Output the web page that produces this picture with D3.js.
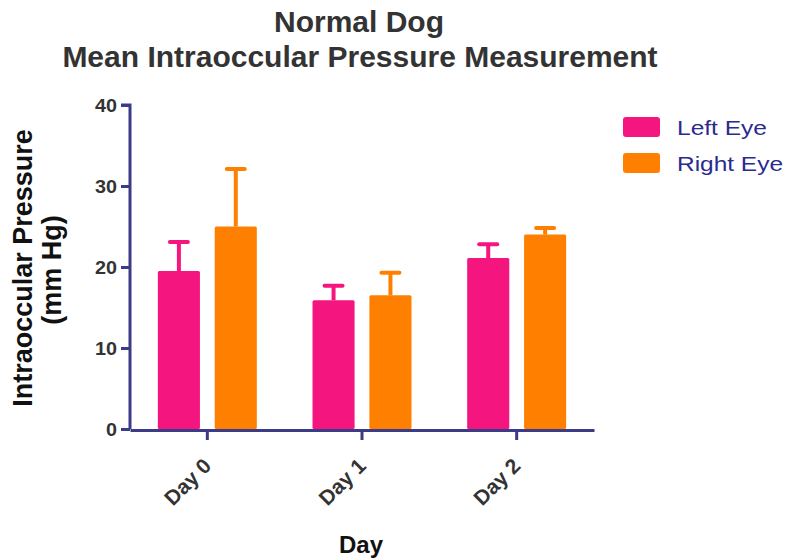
<!DOCTYPE html>
<html>
<head>
<meta charset="utf-8">
<script src="https://cdn.jsdelivr.net/npm/d3@7"></script>
<style>
  body { margin: 0; background: #fff; }
  svg text { font-family: Arial, "Liberation Sans", Helvetica, sans-serif; }
</style>
</head>
<body>
<script>
// chart data
const days = ['Day 0', 'Day 1', 'Day 2'];
const seriesNames = ['Left Eye', 'Right Eye'];
const leftMean = [19.5, 15.9, 21.1];
const leftErr = [23.1, 17.7, 22.8];
const rightMean = [25.0, 16.5, 24.0];
const rightErr = [32.1, 19.3, 24.8];
const yTicks = [0, 10, 20, 30, 40];

const colors = { 'Left Eye': '#f5157e', 'Right Eye': '#ff8000' };
const axisColor = '#3b3b87';

const svg = d3.select('body')
    .append('svg')
    .attr('width', 788)
    .attr('height', 558);

const x = d3.scaleBand()
    .domain(days)
    .range([130, 594])
    .paddingInner(0.36)
    .paddingOuter(0.18);

const xInner = d3.scaleBand()
    .domain(seriesNames)
    .range([0, x.bandwidth()])
    .paddingInner(0.26);

const y = d3.scaleLinear()
    .domain([0, 40])
    .range([429, 105]);

const rows = [];
days.forEach((d, i) => {
    rows.push({ day: d, series: 'Left Eye', mean: leftMean[i], err: leftErr[i] });
    rows.push({ day: d, series: 'Right Eye', mean: rightMean[i], err: rightErr[i] });
});

const cx = d => x(d.day) + xInner(d.series) + xInner.bandwidth() / 2;

// error bars (upper only), drawn under the bars
const eb = svg.append('g');
eb.selectAll('line.stem')
    .data(rows)
    .enter()
    .append('line')
    .attr('x1', cx)
    .attr('x2', cx)
    .attr('y1', d => y(d.mean))
    .attr('y2', d => y(d.err))
    .attr('stroke', d => colors[d.series])
    .attr('stroke-width', 4);

eb.selectAll('line.cap')
    .data(rows)
    .enter()
    .append('line')
    .attr('x1', d => cx(d) - 9)
    .attr('x2', d => cx(d) + 9)
    .attr('y1', d => y(d.err))
    .attr('y2', d => y(d.err))
    .attr('stroke', d => colors[d.series])
    .attr('stroke-width', 4)
    .attr('stroke-linecap', 'round');

svg.append('g')
    .selectAll('rect')
    .data(rows)
    .enter()
    .append('rect')
    .attr('x', d => x(d.day) + xInner(d.series))
    .attr('y', d => y(d.mean))
    .attr('width', xInner.bandwidth())
    .attr('height', d => y(0) - y(d.mean))
    .attr('rx', 1.5)
    .attr('fill', d => colors[d.series]);

// axes
const yAxis = d3.axisLeft(y).tickValues(yTicks).tickSize(9).tickPadding(4);
const gy = svg.append('g')
    .attr('transform', 'translate(130,0)')
    .call(yAxis)
    .attr('font-family', null)
    .attr('font-size', 19);
gy.select('.domain').attr('d', 'M-9,105H0V429').attr('stroke', axisColor).attr('stroke-width', 3);
gy.selectAll('.tick line').attr('stroke', axisColor).attr('stroke-width', 3);
gy.selectAll('.tick text')
    .attr('fill', '#333')
    .attr('font-weight', 'bold')
    .attr('textLength', d => d === 0 ? 11 : 22)
    .attr('lengthAdjust', 'spacingAndGlyphs');

const xAxis = d3.axisBottom(x).tickSize(10).tickSizeOuter(0);
const gx = svg.append('g')
    .attr('transform', 'translate(0,430)')
    .call(xAxis)
    .attr('font-family', null)
    .attr('font-size', 21);
gx.select('.domain').attr('stroke', axisColor).attr('stroke-width', 3);
gx.selectAll('.tick line').attr('stroke', axisColor).attr('stroke-width', 3);
gx.selectAll('.tick text')
    .attr('fill', '#333')
    .attr('font-weight', 'bold')
    .attr('text-anchor', 'end')
    .attr('y', 0)
    .attr('dy', '0.35em')
    .attr('transform', 'translate(0,32) rotate(-45)');

// titles
const title = svg.append('g')
    .attr('font-weight', 'bold')
    .attr('fill', '#333')
    .attr('font-size', 30)
    .attr('text-anchor', 'middle');
title.append('text').attr('x', 359).attr('y', 32).text('Normal Dog');
title.append('text').attr('x', 360).attr('y', 67).text('Mean Intraoccular Pressure Measurement');

svg.append('text')
    .attr('x', 361)
    .attr('y', 553)
    .attr('text-anchor', 'middle')
    .attr('font-size', 24)
    .attr('font-weight', 'bold')
    .attr('fill', '#111')
    .text('Day');

const yTitle = svg.append('g')
    .attr('transform', 'translate(0,268) rotate(-90)')
    .attr('text-anchor', 'middle')
    .attr('font-size', 27)
    .attr('font-weight', 'bold')
    .attr('fill', '#111');
yTitle.append('text').attr('x', 0).attr('y', 32).text('Intraoccular Pressure');
yTitle.append('text').attr('x', -2).attr('y', 61).text('(mm Hg)');

// legend
const legendWidths = [90, 106];
const legend = svg.append('g')
    .selectAll('g')
    .data(seriesNames)
    .enter()
    .append('g')
    .attr('transform', (d, i) => `translate(623,${117 + i * 36})`);
legend.append('rect')
    .attr('width', 37)
    .attr('height', 20)
    .attr('rx', 3)
    .attr('fill', d => colors[d]);
legend.append('text')
    .attr('x', 54)
    .attr('y', 18)
    .attr('font-size', 21)
    .attr('fill', '#2b2b8f')
    .attr('textLength', (d, i) => legendWidths[i])
    .attr('lengthAdjust', 'spacingAndGlyphs')
    .text(d => d);
</script>
</body>
</html>
